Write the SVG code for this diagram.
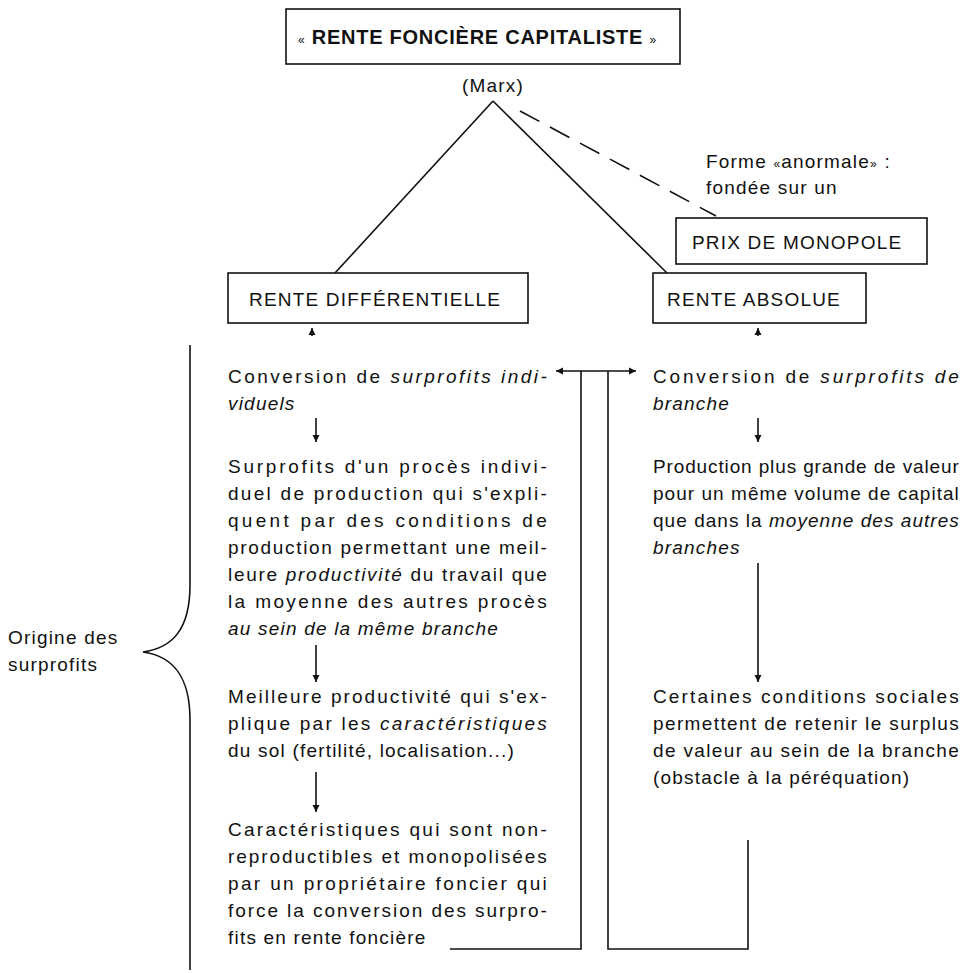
<svg xmlns="http://www.w3.org/2000/svg" width="974" height="973" viewBox="0 0 974 973">
<style>
  text { font-family: "Liberation Sans", Arial, sans-serif; font-size: 19px; fill: #111; letter-spacing: 1.2px; }
  .title { font-weight: bold; font-size: 20px; letter-spacing: 0.75px; }
  .g { font-size: 12px; font-weight: normal; }
  .i { font-style: italic; }
  .box { fill: #fff; stroke: #111; stroke-width: 1.6; }
  .ln { stroke: #111; stroke-width: 1.6; fill: none; }
  .dash { stroke: #111; stroke-width: 1.6; fill: none; stroke-dasharray: 22 12; }
</style>
<defs>
  <marker id="ah" viewBox="0 0 10 10" refX="10" refY="5" markerWidth="7" markerHeight="9" markerUnits="userSpaceOnUse" orient="auto-start-reverse">
    <path d="M0,0 L10,5 L0,10 z" fill="#111"/>
  </marker>
</defs>

<g id="title">
  <rect class="box" x="286" y="9" width="394" height="55"/>
  <text x="298" y="44" class="title"><tspan class="g">«</tspan> RENTE FONCIÈRE CAPITALISTE <tspan class="g">»</tspan></text>
</g>
<g id="marx"><text x="462" y="92">(Marx)</text></g>

<g id="note">
  <text x="706" y="168">Forme <tspan class="g" font-size="14">«</tspan>anormale<tspan class="g" font-size="14">»</tspan> :</text>
  <text x="706" y="194">fondée sur un</text>
</g>
<g id="monopole">
  <rect class="box" x="676" y="218" width="251" height="46"/>
  <text x="692" y="249">PRIX DE MONOPOLE</text>
</g>
<g id="rente-diff">
  <rect class="box" x="228" y="273" width="300" height="50"/>
  <text x="249" y="306">RENTE DIFFÉRENTIELLE</text>
</g>
<g id="rente-abs">
  <rect class="box" x="653" y="273" width="213" height="50"/>
  <text x="667" y="306">RENTE ABSOLUE</text>
</g>

<g id="left-col">
  <text x="228" y="383" textLength="320" lengthAdjust="spacing">Conversion de <tspan class="i">surprofits indi-</tspan></text>
  <text x="228" y="410" class="i">viduels</text>
  <text x="228" y="473" textLength="320" lengthAdjust="spacing">Surprofits d'un procès indivi-</text>
  <text x="228" y="500" textLength="320" lengthAdjust="spacing">duel de production qui s'expli-</text>
  <text x="228" y="527" textLength="320" lengthAdjust="spacing">quent par des conditions de</text>
  <text x="228" y="554" textLength="320" lengthAdjust="spacing">production permettant une meil-</text>
  <text x="228" y="581" textLength="320" lengthAdjust="spacing">leure <tspan class="i">productivité</tspan> du travail que</text>
  <text x="228" y="608" textLength="320" lengthAdjust="spacing">la moyenne des autres procès</text>
  <text x="228" y="635" class="i">au sein de la même branche</text>
  <text x="228" y="703" textLength="320" lengthAdjust="spacing">Meilleure productivité qui s'ex-</text>
  <text x="228" y="730" textLength="320" lengthAdjust="spacing">plique par les <tspan class="i">caractéristiques</tspan></text>
  <text x="228" y="757">du sol (fertilité, localisation...)</text>
  <text x="228" y="836" textLength="320" lengthAdjust="spacing">Caractéristiques qui sont non-</text>
  <text x="228" y="863" textLength="320" lengthAdjust="spacing">reproductibles et monopolisées</text>
  <text x="228" y="890" textLength="320" lengthAdjust="spacing">par un propriétaire foncier qui</text>
  <text x="228" y="917" textLength="320" lengthAdjust="spacing">force la conversion des surpro-</text>
  <text x="228" y="944">fits en rente foncière</text>
</g>

<g id="right-col">
  <text x="653" y="383" textLength="307" lengthAdjust="spacing">Conversion de <tspan class="i">surprofits de</tspan></text>
  <text x="653" y="410" class="i">branche</text>
  <text x="653" y="473" textLength="307" lengthAdjust="spacing">Production plus grande de valeur</text>
  <text x="653" y="500" textLength="307" lengthAdjust="spacing">pour un même volume de capital</text>
  <text x="653" y="527" textLength="307" lengthAdjust="spacing">que dans la <tspan class="i">moyenne des autres</tspan></text>
  <text x="653" y="554" class="i">branches</text>
  <text x="653" y="703" textLength="307" lengthAdjust="spacing">Certaines conditions sociales</text>
  <text x="653" y="730" textLength="307" lengthAdjust="spacing">permettent de retenir le surplus</text>
  <text x="653" y="757" textLength="307" lengthAdjust="spacing">de valeur au sein de la branche</text>
  <text x="653" y="784">(obstacle à la péréquation)</text>
</g>

<g id="origine">
  <text x="8" y="644">Origine des</text>
  <text x="8" y="671">surprofits</text>
  <path class="ln" d="M190,345 L190,585 C190,630 172,648 143,652 C172,656 190,675 190,720 L190,970"/>
</g>

<g id="connectors">
  <line class="ln" x1="493" y1="101" x2="335" y2="273"/>
  <line class="ln" x1="493" y1="101" x2="667" y2="273"/>
  <line class="dash" x1="520" y1="111" x2="716" y2="216"/>
  <line class="ln" x1="312" y1="336" x2="312" y2="328" marker-end="url(#ah)"/>
  <line class="ln" x1="758" y1="336" x2="758" y2="328" marker-end="url(#ah)"/>
  <line class="ln" x1="316" y1="418" x2="316" y2="442" marker-end="url(#ah)"/>
  <line class="ln" x1="316" y1="645" x2="316" y2="682" marker-end="url(#ah)"/>
  <line class="ln" x1="316" y1="772" x2="316" y2="812" marker-end="url(#ah)"/>
  <line class="ln" x1="758" y1="418" x2="758" y2="442" marker-end="url(#ah)"/>
  <line class="ln" x1="758" y1="563" x2="758" y2="682" marker-end="url(#ah)"/>
  <line class="ln" x1="556" y1="371" x2="636" y2="371" marker-start="url(#ah)" marker-end="url(#ah)"/>
  <polyline class="ln" points="450,949 581,949 581,371"/>
  <polyline class="ln" points="608,371 608,949 748,949 748,840"/>
</g>
</svg>
